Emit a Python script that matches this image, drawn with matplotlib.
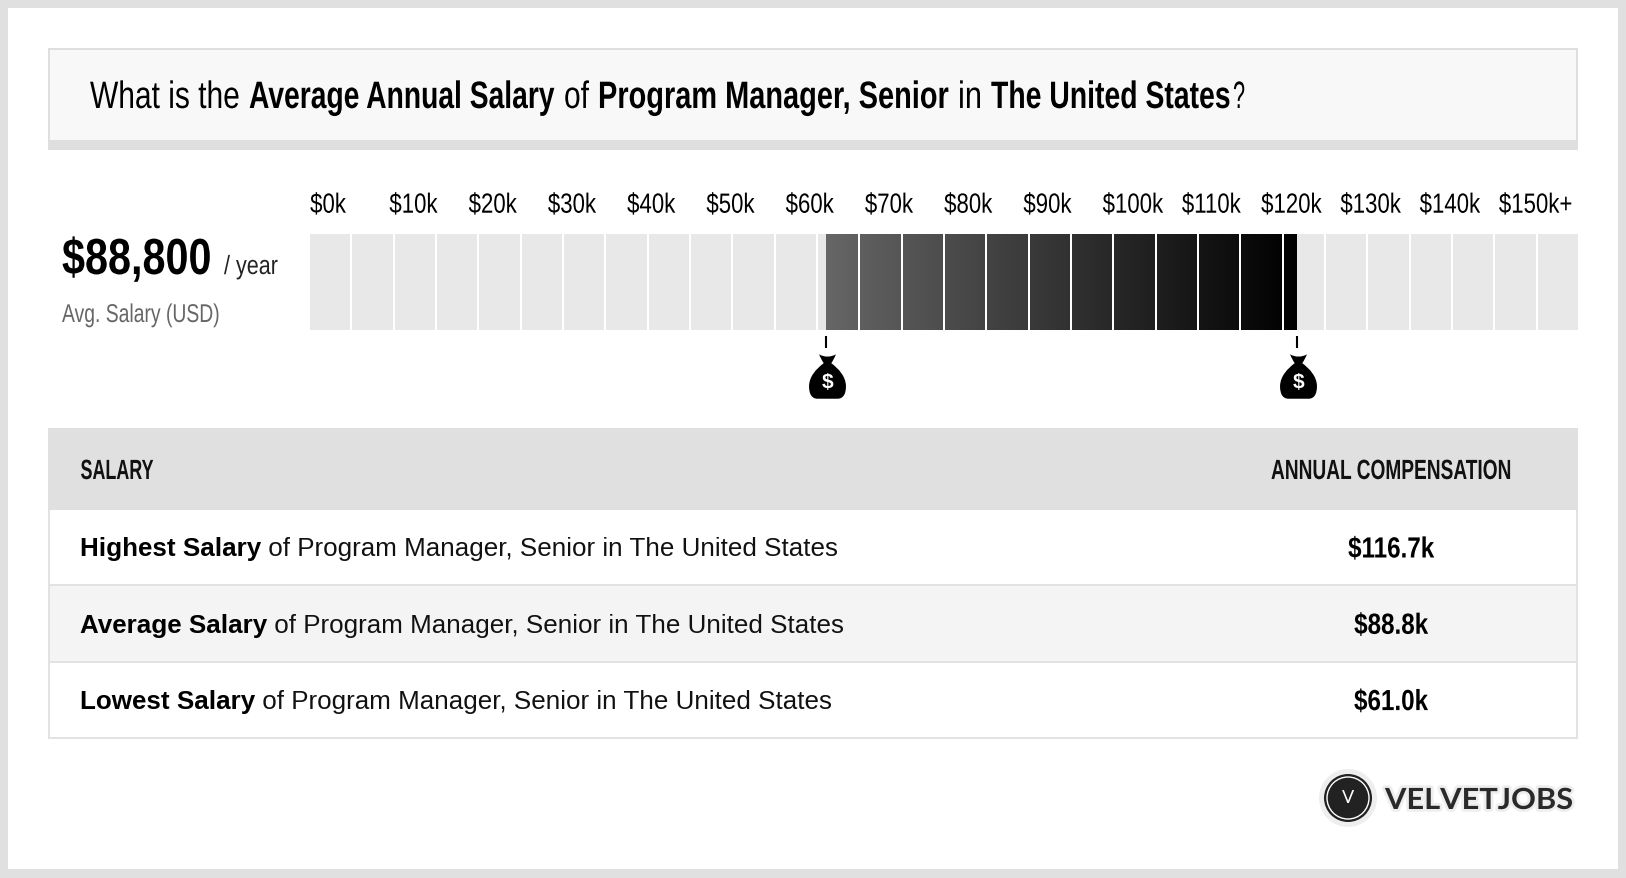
import numpy as np
import matplotlib
matplotlib.use('Agg')
import matplotlib.pyplot as plt
import matplotlib.patheffects as pe
from matplotlib.colors import LinearSegmentedColormap
from matplotlib.patches import Rectangle, Circle
from matplotlib.path import Path
from matplotlib.text import Text
from matplotlib.transforms import Affine2D, Bbox

# ----------------------------------------------------------------------------
# Data
# ----------------------------------------------------------------------------
tick_labels = ['$0k', '$10k', '$20k', '$30k', '$40k', '$50k', '$60k', '$70k',
               '$80k', '$90k', '$100k', '$110k', '$120k', '$130k', '$140k',
               '$150k+']
axis_max = 150.0      # $k
block_size = 5.0      # $k per grey block
low_salary = 61.0     # $k
high_salary = 116.7   # $k
avg_label = '$88,800'

row_names = ['Highest Salary', 'Average Salary', 'Lowest Salary']
row_values = ['$116.7k', '$88.8k', '$61.0k']
row_tail = ' of Program Manager, Senior in The United States'

# text, bold, left and right edge in pixels
title_runs = [('What is the', False, 90, 240), ('Average Annual Salary', True, 249, 555),
              ('of', False, 564, 589), ('Program Manager, Senior', True, 598, 949),
              ('in', False, 958, 982), ('The United States', True, 991, 1231),
              ('?', False, 1233, 1245)]

SANS = ['Liberation Sans']
W, H = 1626, 878

# the small extra keeps 8.78 * 100 from truncating to 877 rows
fig = plt.figure(figsize=((W + 0.01) / 100, (H + 0.01) / 100), dpi=100, facecolor='#e0e0e0')
renderer = fig.canvas.get_renderer()

# page axes in pixels, y pointing down, for the boxes and text
page = fig.add_axes([0, 0, 1, 1])
page.set_xlim(0, W)
page.set_ylim(H, 0)
page.axis('off')


def box(x0, y0, x1, y1, color):
    page.add_patch(Rectangle((x0, y0), x1 - x0, y1 - y0, fc=color, ec='none'))


# no condensed family is installed, so glyphs get narrowed when they are drawn
class Squeeze(pe.AbstractPathEffect):
    def __init__(self, factor, anchor, **gc_kw):
        super().__init__()
        self._squeeze = Affine2D().translate(-anchor, 0).scale(factor, 1).translate(anchor, 0)
        self._gc = gc_kw

    def draw_path(self, renderer, gc, tpath, affine, rgbFace=None):
        gc0 = renderer.new_gc()
        gc0.copy_properties(gc)
        gc0 = self._update_gc(gc0, self._gc)
        renderer.draw_path(gc0, tpath, affine + self._squeeze, rgbFace)
        gc0.restore()


class NarrowText(Text):
    factor = 1.0

    # report the narrowed box, the layout box is relative to the anchor
    def _get_layout(self, renderer):
        bbox, info, descent = super()._get_layout(renderer)
        bbox = Bbox([[bbox.x0 * self.factor, bbox.y0], [bbox.x1 * self.factor, bbox.y1]])
        return bbox, info, descent


def narrow(x, y, s, width=None, factor=1.0, family=SANS, halo=None, **kw):
    t = NarrowText(x, y, s, va='baseline', transform=page.transData, family=family, **kw)
    page.add_artist(t)
    if width is not None:
        factor = width / t.get_window_extent(renderer).width
    t.factor = factor
    effects = [Squeeze(factor, x)]
    if halo:
        effects.insert(0, Squeeze(factor, x, linewidth=halo[0], foreground=halo[1]))
    t.set_path_effects(effects)
    return t


box(8, 8, 1618, 869, 'white')

# ----------------------------------------------------------------------------
# Title band
# ----------------------------------------------------------------------------
box(48, 48, 1578, 150, '#dfdfdf')
box(50, 50, 1576, 140, '#f8f8f8')
for text, bold, x0, x1 in title_runs:
    narrow(x0, 108, text, width=x1 - x0, fontsize=27.5, color='black',
           weight='bold' if bold else 'normal')

# ----------------------------------------------------------------------------
# Left summary
# ----------------------------------------------------------------------------
narrow(62, 274, avg_label, width=150, fontsize=36.5, weight='bold')
narrow(224, 274, '/ year', width=54, fontsize=19, color='#222222')
narrow(62, 322, 'Avg. Salary (USD)', width=158, fontsize=18.5, color='#666666')

# ----------------------------------------------------------------------------
# Salary scale
# ----------------------------------------------------------------------------
bar_x, bar_w = 310, 1268
ax = fig.add_axes([bar_x / W, 1 - 330 / H, bar_w / W, 96 / H])
ax.patch.set_alpha(0)
block_edges = np.arange(0, axis_max, block_size)
ax.bar(block_edges, 1, width=block_size, align='edge', color='#e8e8e8')

ramp = LinearSegmentedColormap.from_list('ramp', ['#666666', '#000000'])
ax.imshow(np.linspace(0, 1, 256).reshape(1, -1), cmap=ramp, aspect='auto',
          extent=[low_salary, high_salary, 0, 1], zorder=2)

# the 2 px white gap sits at the right end of each block
gap = 2 * axis_max / bar_w
ax.bar(block_edges[1:] * (1 + gap / axis_max) - gap, 1, width=gap, align='edge',
       color='white', zorder=3)

ax.set_xlim(0, axis_max)
ax.set_ylim(0, 1)
ax.xaxis.tick_top()
label_pos = np.arange(len(tick_labels)) * axis_max / len(tick_labels)
ax.set_xticks(label_pos, tick_labels, ha='left', family=SANS, fontsize=20)
ax.tick_params(axis='x', length=0, pad=11)
for tick, pos in zip(ax.xaxis.get_major_ticks(), label_pos):
    tick.label2.set_path_effects([Squeeze(0.80, bar_x + 0.5 + pos / axis_max * bar_w)])
ax.set_yticks([])
for spine in ax.spines.values():
    spine.set_visible(False)

# money bag marker, symmetric about x = 0
bag = Path(
    [(-.38, 1), (-.15, .86), (.15, .86), (.38, 1),
     (.32, .85), (.25, .72), (.17, .60),
     (.50, .35), (.83, 0), (.83, -.44),
     (.83, -.80), (.70, -1), (.45, -1),
     (-.45, -1),
     (-.70, -1), (-.83, -.80), (-.83, -.44),
     (-.83, 0), (-.50, .35), (-.17, .60),
     (-.25, .72), (-.32, .85), (-.38, 1), (-.38, 1)],
    [Path.MOVETO, Path.CURVE4, Path.CURVE4, Path.CURVE4,
     Path.CURVE4, Path.CURVE4, Path.CURVE4,
     Path.CURVE4, Path.CURVE4, Path.CURVE4,
     Path.CURVE4, Path.CURVE4, Path.CURVE4,
     Path.LINETO,
     Path.CURVE4, Path.CURVE4, Path.CURVE4,
     Path.CURVE4, Path.CURVE4, Path.CURVE4,
     Path.CURVE4, Path.CURVE4, Path.CURVE4, Path.CLOSEPOLY])
trans = ax.get_xaxis_transform()
for value in (low_salary, high_salary):
    ax.plot([value, value], [-0.06, -0.19], color='black', lw=1.5, transform=trans,
            clip_on=False, solid_capstyle='butt')
    ax.plot([value + 0.2], [-0.48], marker=bag, ms=32, mfc='black', mec='none',
            transform=trans, clip_on=False)
    ax.text(value + 0.2, -0.55, '$', color='white', family=SANS, weight='bold',
            fontsize=15, ha='center', va='center', transform=trans, clip_on=False)

# ----------------------------------------------------------------------------
# Table
# ----------------------------------------------------------------------------
box(48, 428, 1578, 510, '#e0e0e0')
box(48, 586, 1578, 662, '#f4f4f4')
for y in (585.5, 662, 738):
    box(48, y - 1, 1578, y + 1, '#e2e2e2')
box(48, 510, 50, 739, '#e2e2e2')
box(1576, 510, 1578, 739, '#e2e2e2')

narrow(80.5, 479, 'SALARY', width=73, fontsize=20, weight='bold', color='#111111')
narrow(1271, 479, 'ANNUAL COMPENSATION', width=240, fontsize=20, weight='bold',
       color='#111111')

for i, (name, value) in enumerate(zip(row_names, row_values)):
    label = page.text(80, 549 + i * 76.5, name, family=SANS, fontsize=18.7,
                      weight='bold', va='center')
    page.annotate(row_tail, xy=(1, 0.5), xycoords=label, family=SANS, fontsize=18.7,
                  va='center', ha='left', color='#111111')
    narrow(1391, 557.5 + i * 76.3, value, factor=0.83, ha='center', fontsize=21,
           weight='bold')

# ----------------------------------------------------------------------------
# Logo
# ----------------------------------------------------------------------------
page.add_patch(Circle((1348, 798), 29, fc='#eeeeee', ec='none'))
page.add_patch(Circle((1348, 798), 24, fc='#222222', ec='none'))
page.add_patch(Circle((1348, 798), 21, fc='none', ec='white', lw=1))
page.text(1348, 798, 'V', color='white', family=['Lato'], fontsize=13, ha='center', va='center')
narrow(1385, 809, 'VELVETJOBS', width=188, family=['Lato'], halo=(4, '#eeeeee'),
       color='#2a2a2a', fontsize=21, weight='bold')

fig.savefig('out.png', dpi=100, facecolor=fig.get_facecolor())
